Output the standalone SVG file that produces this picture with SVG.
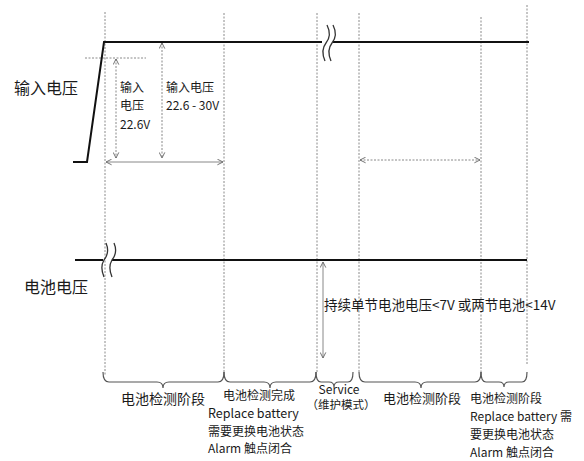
<svg xmlns="http://www.w3.org/2000/svg" width="584" height="461" viewBox="0 0 584 461">
<defs>
<style>
.t{font-family:"Noto Sans CJK SC","Noto Sans",sans-serif;fill:#1a1a1a}
.guide{stroke:#8a8a8a;stroke-width:1;stroke-dasharray:2,1.5;fill:none}
.sig{stroke:#111;stroke-width:2;fill:none}
.brk{stroke:#333;stroke-width:1.3;fill:none}
.dim{stroke:#888;stroke-width:1;fill:none}
.dimd{stroke:#888;stroke-width:1;stroke-dasharray:2,1.5;fill:none}
.brace{stroke:#555;stroke-width:1.2;fill:none}
</style>
<marker id="ah" viewBox="0 0 10 10" refX="9" refY="5" markerWidth="7" markerHeight="7" orient="auto-start-reverse" markerUnits="userSpaceOnUse">
<path d="M1,1 L9,5 L1,9" fill="none" stroke="#666" stroke-width="1.3"/>
</marker>
</defs>
<rect width="584" height="461" fill="#fff"/>

<g id="guides">
<line class="guide" x1="105" y1="12" x2="105" y2="375"/>
<line class="guide" x1="224" y1="13" x2="224" y2="372"/>
<line class="guide" x1="317" y1="13" x2="317" y2="372"/>
<line class="guide" x1="359" y1="13" x2="359" y2="372"/>
<line class="guide" x1="481" y1="17" x2="481" y2="372"/>
<line class="guide" x1="527" y1="5" x2="527" y2="365"/>
<line class="guide" x1="85" y1="58" x2="146" y2="58"/>
</g>

<g id="input-signal">
<path class="sig" d="M73,162 L87,162 L104,42 L322,42"/>
<line class="sig" x1="333" y1="42" x2="529" y2="42"/>
<path class="brk" d="M327,25 C331,33 330,38 326,43 C322,48 322,54 325,61"/>
<path class="brk" d="M333,25 C337,33 336,38 332,43 C328,48 328,54 331,61"/>
</g>

<g id="battery-signal">
<line class="sig" x1="75" y1="260" x2="103" y2="260" stroke-width="1.6"/>
<line class="sig" x1="112" y1="260" x2="527" y2="260" stroke-width="1.6"/>
<path class="brk" d="M106,243 C109,250 108,255 104,260 C101,265 101,270 104,277"/>
<path class="brk" d="M114,243 C117,250 116,255 112,260 C109,265 109,270 112,277"/>
</g>

<g id="connectors">
<line class="dimd" x1="116" y1="59" x2="116" y2="158" marker-start="url(#ah)" marker-end="url(#ah)"/>
<line class="dimd" x1="162" y1="43" x2="162" y2="158" marker-start="url(#ah)" marker-end="url(#ah)"/>
<line class="dim" x1="106" y1="162" x2="223" y2="162" marker-start="url(#ah)" marker-end="url(#ah)"/>
<line class="dimd" x1="360" y1="160" x2="480" y2="160" marker-start="url(#ah)" marker-end="url(#ah)"/>
<line class="dim" x1="323" y1="262" x2="323" y2="358" marker-start="url(#ah)" marker-end="url(#ah)"/>
</g>

<g id="braces">
<path class="brace" d="M103,372 Q103,382 109,382 L157,382 Q163,382 163,388 Q163,382 169,382 L218,382 Q224,382 224,372"/>
<path class="brace" d="M224,372 Q224,382 230,382 L264,382 Q270,382 270,388 Q270,382 276,382 L310,382 Q316,382 316,372"/>
<path class="brace" d="M316,372 Q316,382 321,382 L329,382 Q334,382 334,387 Q334,382 339,382 L348,382 Q353,382 353,372"/>
<path class="brace" d="M359,372 Q359,382 365,382 L415,382 Q421,382 421,388 Q421,382 427,382 L475,382 Q481,382 481,372"/>
<path class="brace" d="M481,372 Q481,382 486,382 L499,382 Q504,382 504,387 Q504,382 509,382 L522,382 Q527,382 527,372"/>
</g>

<g id="labels">
<text class="t" x="14" y="94" font-size="16">输入电压</text>
<text class="t" x="24" y="293" font-size="16">电池电压</text>
<text class="t" x="120" y="92" font-size="12">输入</text>
<text class="t" x="120" y="110" font-size="12">电压</text>
<text class="t" x="120" y="129" font-size="12">22.6V</text>
<text class="t" x="166" y="92" font-size="12">输入电压</text>
<text class="t" x="166" y="110" font-size="12">22.6 - 30V</text>
<text class="t" x="324" y="310" font-size="13.5">持续单节电池电压&lt;7V 或两节电池&lt;14V</text>
<text class="t" x="163" y="404" font-size="14" text-anchor="middle">电池检测阶段</text>
<text class="t" x="223" y="400" font-size="12">电池检测完成</text>
<text class="t" x="208" y="418" font-size="12.5">Replace battery</text>
<text class="t" x="208" y="435.5" font-size="12">需要更换电池状态</text>
<text class="t" x="208" y="453" font-size="12">Alarm 触点闭合</text>
<text class="t" x="339" y="394" font-size="12" text-anchor="middle">Service</text>
<text class="t" x="341" y="409" font-size="11.5" text-anchor="middle">（维护模式）</text>
<text class="t" x="422" y="403" font-size="13" text-anchor="middle">电池检测阶段</text>
<text class="t" x="470" y="403" font-size="12">电池检测阶段</text>
<text class="t" x="470" y="421" font-size="12">Replace battery 需</text>
<text class="t" x="470" y="439" font-size="12">要更换电池状态</text>
<text class="t" x="470" y="457" font-size="12">Alarm 触点闭合</text>
</g>
</svg>
